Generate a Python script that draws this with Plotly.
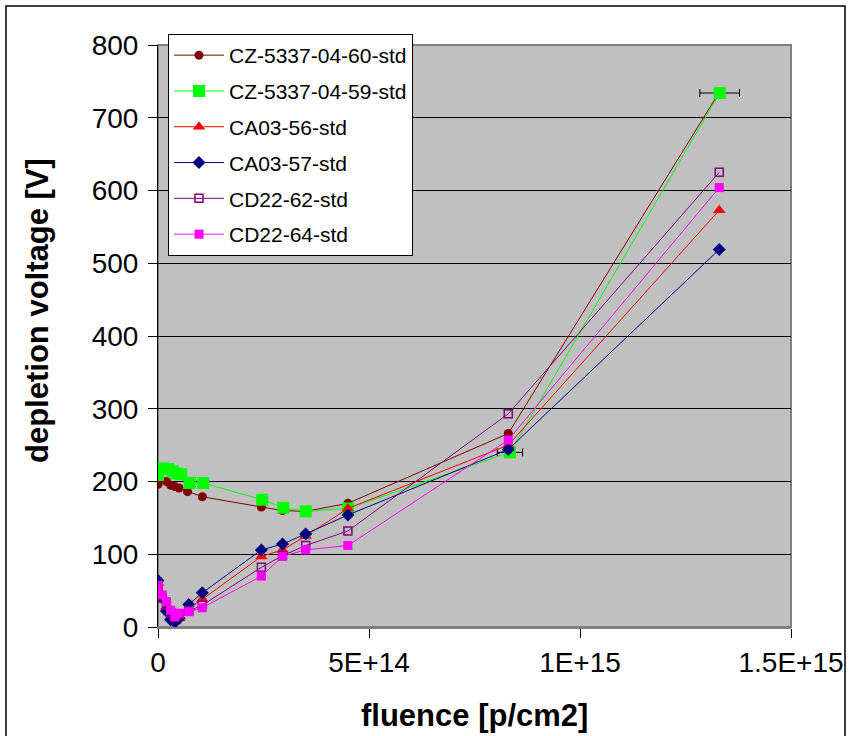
import plotly.graph_objects as go

NaN = float("nan")

# ---- data (fluence in p/cm2, depletion voltage in V) ----
f_cz60 = [0, 0.2e14, 0.3e14, 0.4e14, 0.5e14, 0.7e14, 1.05e14, 2.45e14, 2.95e14, 3.5e14, 4.5e14, 8.3e14, 13.3e14]
v_cz60 = [196, 200, 195, 193, 191, 186, 179, 165, 160, 159, 170, 266, 735]

f_cz59 = [0, 0.12e14, 0.25e14, 0.35e14, 0.45e14, 0.55e14, 0.75e14, 1.07e14, 2.47e14, 2.97e14, 3.5e14, 4.5e14, 8.34e14, 13.31e14]
v_cz59 = [209, 218, 217, 214, 211, 210, 198, 198, 175, 164, 159, 163, 240, 734]
ex_cz59 = [NaN, NaN, NaN, NaN, NaN, NaN, NaN, NaN, NaN, NaN, NaN, NaN, 0.3e14, 0.47e14]

f_std = [0, 0.1e14, 0.2e14, 0.3e14, 0.4e14, 0.5e14, 0.73e14, 1.05e14, 2.45e14, 2.95e14, 3.5e14, 4.5e14, 8.3e14, 13.3e14]
v_ca56 = [60, 42, 28, 14, 8, 12, 26, 38, 97, 106, 125, 163, 250, 573]
v_ca57 = [64, 40, 22, 10, 7, 12, 31, 47, 106, 114, 128, 154, 244, 519]
v_cd62 = [55, 40, 30, 20, 14, 17, 22, 30, 82, 98, 112, 132, 293, 625]
v_cd64 = [57, 44, 35, 23, 14, 19, 21, 26.5, 70, 97, 106, 112, 257, 604]

x_tickvals = [0, 5e14, 1e15, 1.5e15]
x_ticktext = ["0", "5E+14", "1E+15", "1.5E+15"]
y_tickvals = [0, 100, 200, 300, 400, 500, 600, 700, 800]

x_title = "<b>fluence [p/cm2]</b>"
y_title = "<b>depletion voltage [V]</b>"

FONT = "Liberation Sans, Arial, sans-serif"

fig = go.Figure()

def add(i, name, x, y, color, symbol, size, err=None):
    kw = {}
    if err is not None:
        kw["error_x"] = dict(type="data", array=err, color="black", thickness=1, width=4, visible=True)
    fig.add_trace(go.Scatter(
        x=x, y=y, name=name, mode="lines+markers", legendgroup=f"g{i}",
        line=dict(color=color, width=1),
        marker=dict(color=color, symbol=symbol, size=size,
                    line=dict(color=color, width=1.5 if "open" in symbol else 0)),
        **kw))

add(0, "CZ-5337-04-60-std", f_cz60, v_cz60, "#800000", "circle", 9)
add(1, "CZ-5337-04-59-std", f_cz59, v_cz59, "#00FF00", "square", 12, ex_cz59)
add(2, "CA03-56-std", f_std, v_ca56, "#FF0000", "triangle-up", 11)
add(3, "CA03-57-std", f_std, v_ca57, "#000080", "diamond", 10)
add(4, "CD22-62-std", f_std, v_cd62, "#800080", "square-open", 8)
add(5, "CD22-64-std", f_std, v_cd64, "#FF00FF", "square", 9)

L, R, T, B = 158, 59, 45, 109
W, H = 850, 736
pw, ph = W - L - R, H - T - B

def px(xp):
    return (xp - L) / pw

def py(yp):
    return (H - B - yp) / ph

fig.update_layout(
    width=W, height=H,
    margin=dict(l=L, r=R, t=T, b=B, autoexpand=False),
    paper_bgcolor="white",
    plot_bgcolor="#C0C0C0",
    font=dict(family=FONT, color="black"),
    showlegend=True,
    legend=dict(
        x=px(168), y=py(34), xanchor="left", yanchor="top",
        bgcolor="white", bordercolor="black", borderwidth=1,
        font=dict(size=21, family=FONT, color="black"),
        itemsizing="trace", itemwidth=50, tracegroupgap=5.5,
        traceorder="grouped",
    ),
    xaxis=dict(
        range=[0, 1.5e15], tickmode="array", tickvals=x_tickvals, ticktext=x_ticktext,
        ticks="outside", ticklen=9, tickcolor="black", tickwidth=1,
        showgrid=False, zeroline=False, automargin=False,
        showline=True, linecolor="#808080", linewidth=2,
        tickfont=dict(size=28, family=FONT),
    ),
    yaxis=dict(
        range=[0, 800], tickmode="array", tickvals=y_tickvals,
        ticks="outside", ticklen=9, tickcolor="black", tickwidth=1,
        ticklabelstandoff=4, automargin=False,
        showgrid=True, gridcolor="black", gridwidth=1,
        zeroline=False,
        showline=True, linecolor="black", linewidth=1,
        tickfont=dict(size=28, family=FONT),
    ),
    annotations=[
        dict(text=x_title, xref="paper", yref="paper", x=px(474), y=py(715),
             xanchor="center", yanchor="middle", showarrow=False,
             font=dict(size=31, family=FONT, color="black")),
        dict(text=y_title, xref="paper", yref="paper", x=px(37), y=py(310),
             xanchor="center", yanchor="middle", showarrow=False, textangle=-90,
             font=dict(size=31, family=FONT, color="black")),
    ],
    shapes=[
        dict(type="rect", xref="paper", yref="paper", x0=0, x1=1, y0=0, y1=1,
             line=dict(color="#808080", width=2), layer="below"),
        dict(type="rect", xref="paper", yref="paper",
             x0=px(6), x1=px(845), y0=py(745), y1=py(6),
             line=dict(color="black", width=1.5)),
    ],
)

fig.write_html("out.html")
